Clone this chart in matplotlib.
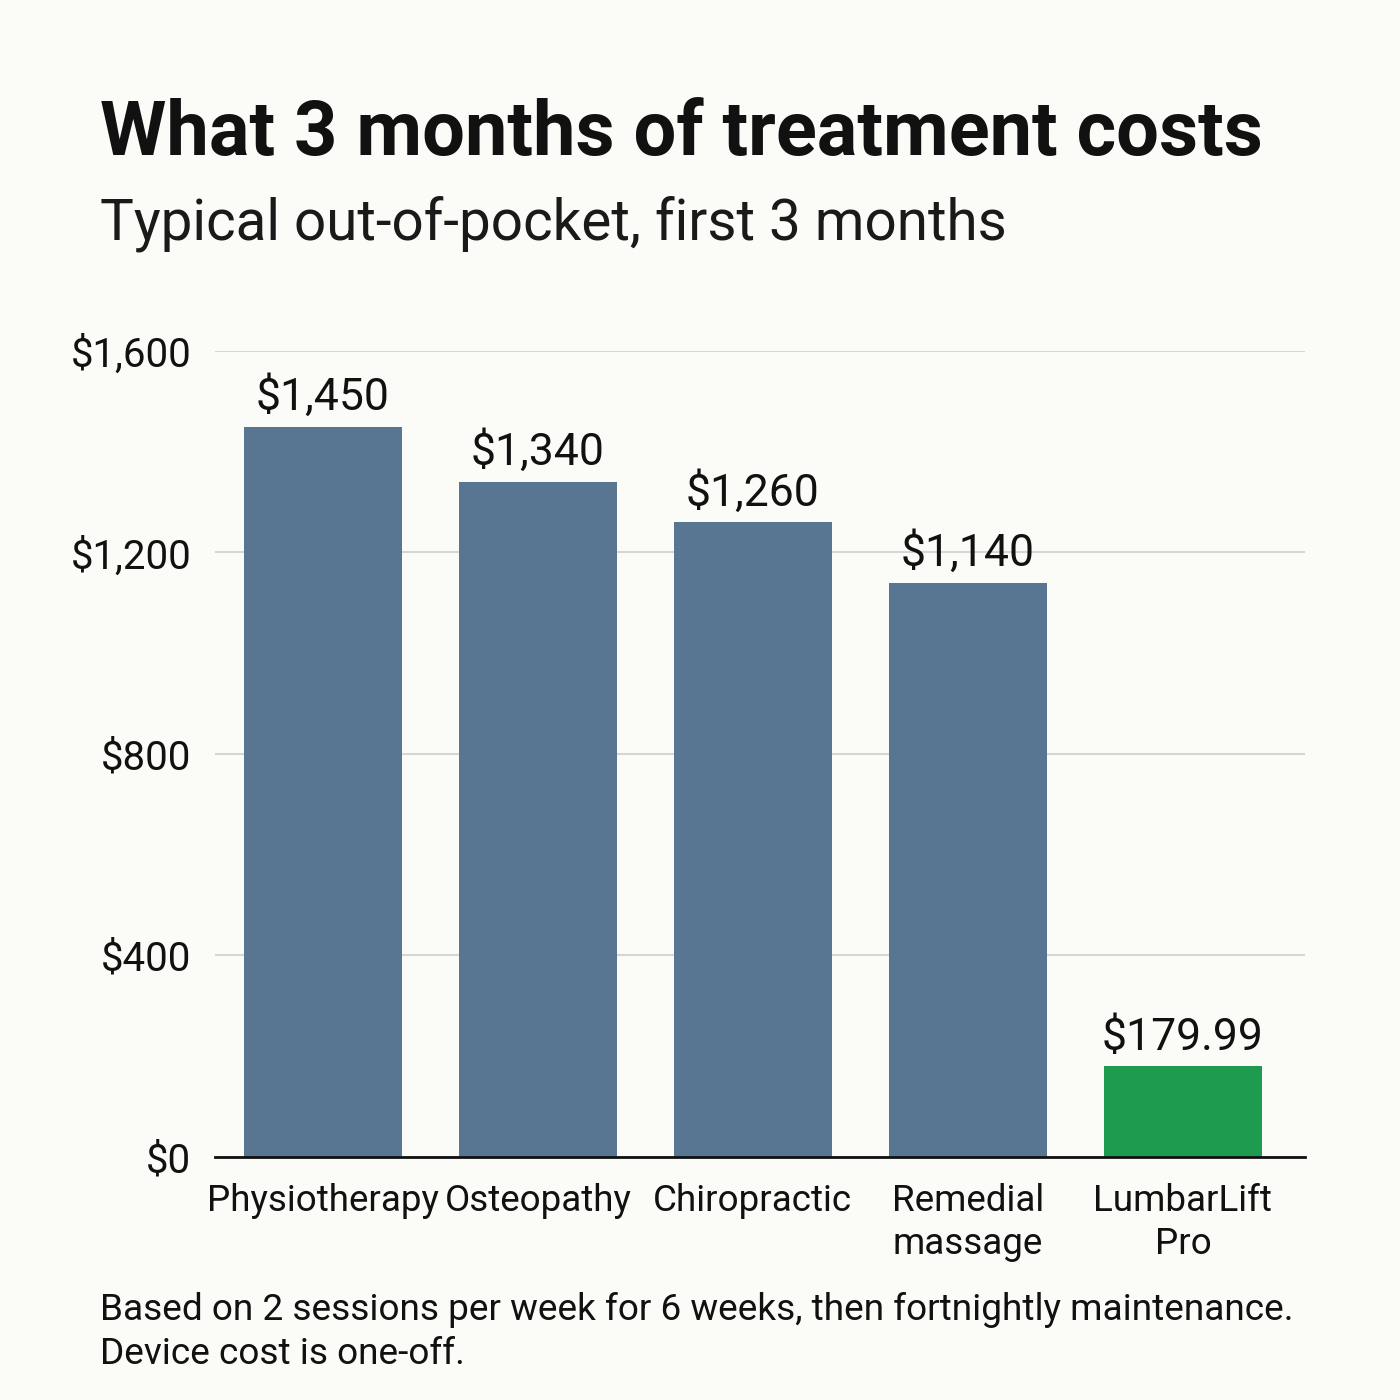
import matplotlib
matplotlib.use("Agg")
import matplotlib.pyplot as plt

plt.rcParams['font.family'] = ['Roboto', 'DejaVu Sans']

# data
categories = ['Physiotherapy', 'Osteopathy', 'Chiropractic', 'Remedial\nmassage', 'LumbarLift\nPro']
costs = [1450, 1340, 1260, 1140, 179.99]
value_labels = ['$1,450', '$1,340', '$1,260', '$1,140', '$179.99']
y_ticks = [0, 400, 800, 1200, 1600]
y_tick_labels = ['$0', '$400', '$800', '$1,200', '$1,600']

bg = '#fbfbf8'
blue = '#587592'
green = '#1e9b4f'
colors = [blue, blue, blue, blue, green]

fig = plt.figure(figsize=(14, 14), dpi=100)
fig.patch.set_facecolor(bg)

ax = fig.add_axes([0.1536, 0.1736, 0.932 - 0.1536, 0.7493 - 0.1736])
ax.set_facecolor(bg)

x = list(range(len(categories)))
bars = ax.bar(x, costs, width=0.735, color=colors, zorder=2)

for xi, v, lab in zip(x, costs, value_labels):
    ax.annotate(lab, (xi, v), xytext=(0, 5.5), textcoords='offset points',
                ha='center', va='bottom', fontsize=32, color='#111111')

ax.set_xlim(-0.502, 4.567)
ax.set_ylim(0, 1600)
ax.set_yticks(y_ticks)
ax.set_yticklabels(y_tick_labels)
ax.set_xticks(x)
ax.set_xticklabels(categories, linespacing=1.25)

ax.tick_params(axis='y', length=0, pad=17, labelsize=29, labelcolor='#111111')
ax.tick_params(axis='x', length=0, pad=19, labelsize=26.5, labelcolor='#111111')

ax.grid(axis='y', color='#d6d6d6', linewidth=1.5, zorder=0)
ax.set_axisbelow(True)
for s in ['top', 'right', 'left']:
    ax.spines[s].set_visible(False)
ax.spines['bottom'].set_color('#111111')
ax.spines['bottom'].set_linewidth(2)
ax.spines['bottom'].set_zorder(3)

fig.text(0.0714, 0.889, 'What 3 months of treatment costs', fontsize=54.6,
         fontweight='bold', color='#111111', ha='left', va='baseline')
fig.text(0.0714, 0.8286, 'Typical out-of-pocket, first 3 months', fontsize=40.8,
         color='#1a1a1a', ha='left', va='baseline')
fig.text(0.0714, 1 - 1320 / 1400,
         'Based on 2 sessions per week for 6 weeks, then fortnightly maintenance.',
         fontsize=26.65, color='#111111', ha='left', va='baseline')
fig.text(0.0714, 1 - 1364 / 1400, 'Device cost is one-off.',
         fontsize=26.65, color='#111111', ha='left', va='baseline')

fig.savefig('out.png', dpi=100, facecolor=bg)
